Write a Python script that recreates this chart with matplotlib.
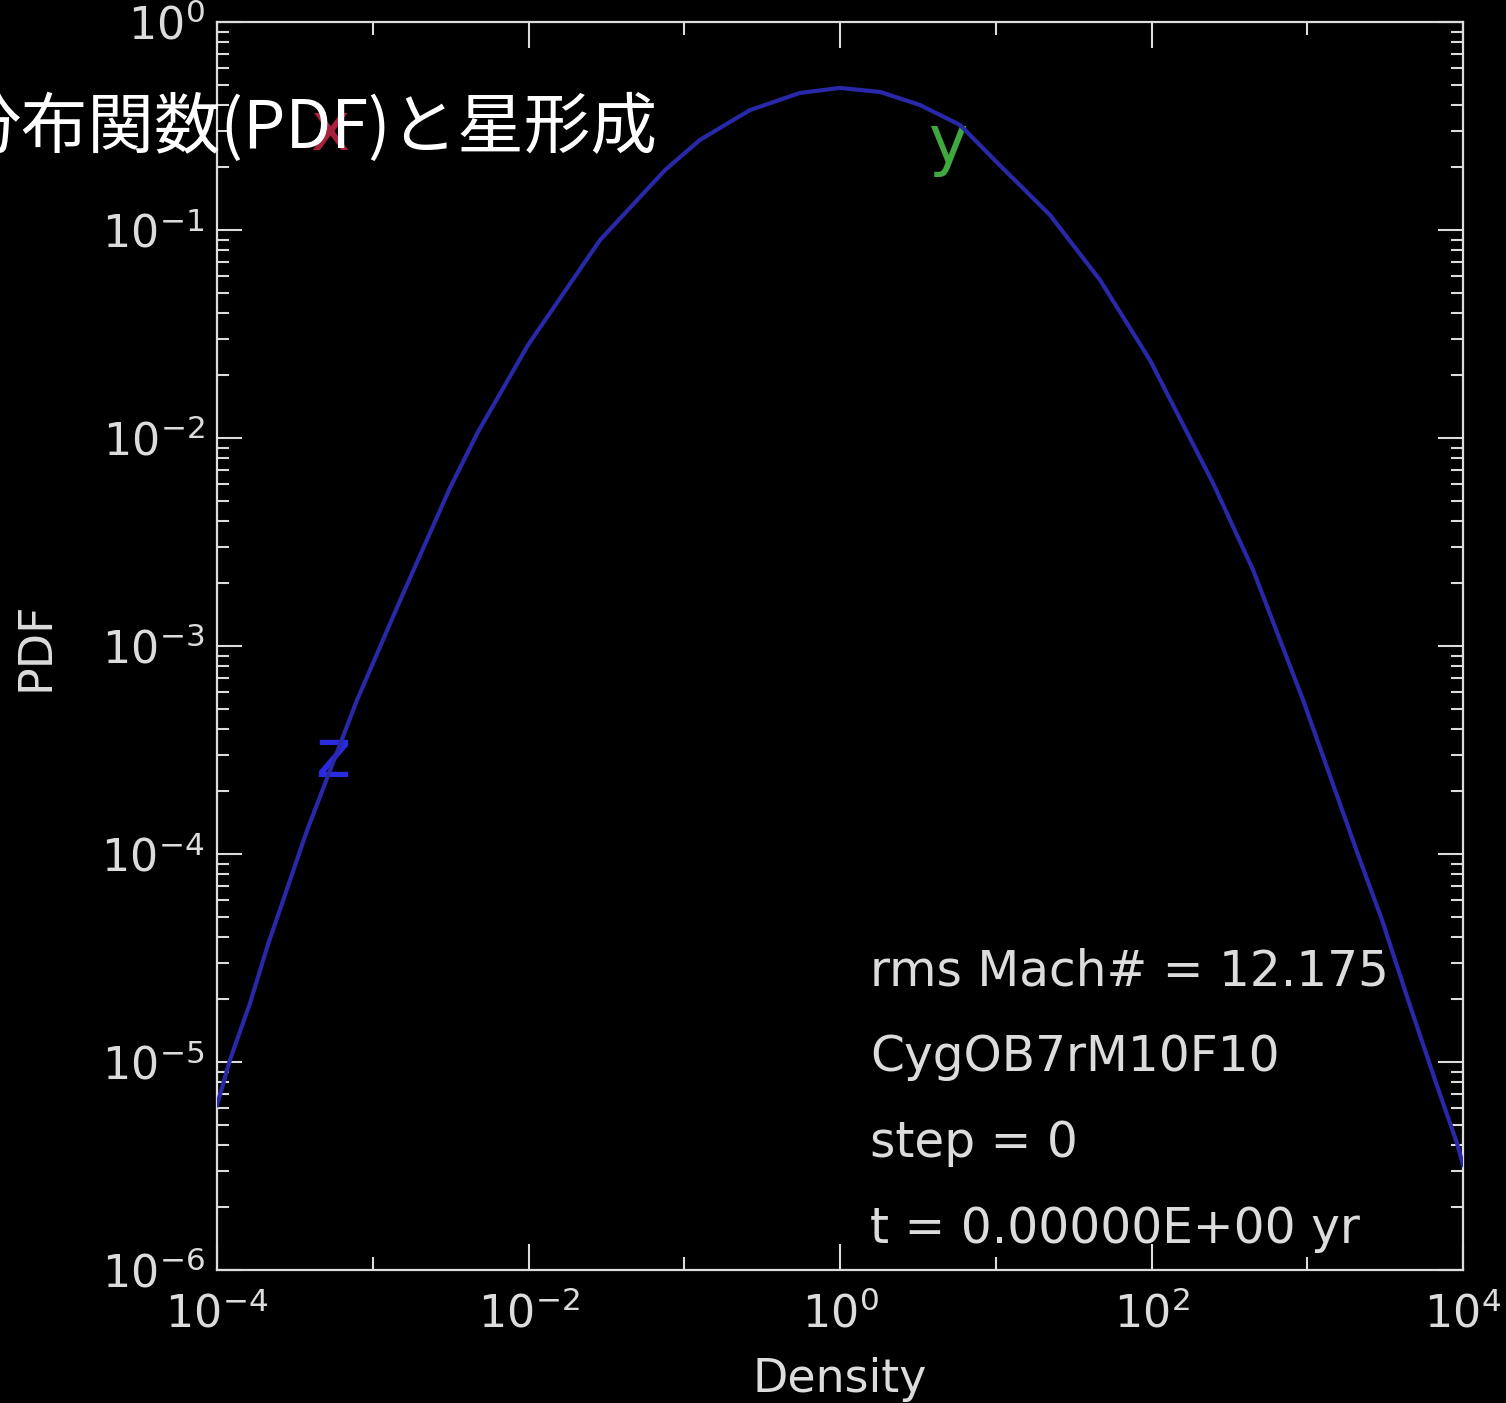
import matplotlib
matplotlib.use('Agg')
import matplotlib.pyplot as plt
from matplotlib.ticker import FixedLocator, LogLocator, NullFormatter, LogFormatterSciNotation

# density PDF
density = [1.0e-4, 1.21e-4, 1.63e-4, 2.12e-4, 3.79e-4, 7.93e-4, 1.50e-3, 3.13e-3, 4.74e-3,
           9.93e-3, 2.88e-2, 7.52e-2, 0.126, 0.264, 0.553, 1.0, 1.81, 3.26, 5.89, 10.6,
           22.3, 46.7, 97.7, 248, 449, 940, 2120, 3020, 4440, 6610, 9140, 1.0e4]
pdf = [6.2e-6, 1.02e-5, 1.92e-5, 3.65e-5, 1.30e-4, 5.5e-4, 1.66e-3, 5.75e-3, 1.07e-2,
       2.80e-2, 8.95e-2, 0.194, 0.271, 0.377, 0.456, 0.482, 0.461, 0.399, 0.320, 0.205,
       0.118, 5.75e-2, 2.37e-2, 6.08e-3, 2.32e-3, 5.5e-4, 9.9e-5, 4.82e-5, 1.99e-5,
       8.2e-6, 4.08e-6, 3.2e-6]

# direction labels (x, y, z) and where they sit
dir_names = ['x', 'y', 'z']
dir_colors = ['#a8203c', '#3fa83f', '#2a2ae0']
dir_pos = [(5.3e-4, 0.30), (4.9, 0.26), (5.5e-4, 2.9e-4)]

info_lines = ['rms Mach# = 12.175', 'CygOB7rM10F10', 'step = 0', 't = 0.00000E+00 yr']
title = '分布関数(PDF)と星形成'

fg = '#dcdcdc'

fig = plt.figure(figsize=(15.06, 14.03), dpi=100, facecolor='black')
ax = fig.add_axes([217 / 1506, 1 - 1270 / 1403, 1246 / 1506, 1248 / 1403])
ax.set_facecolor('black')

ax.plot(density, pdf, color='#2828a8', lw=3, zorder=3)

for name, col, (px, py) in zip(dir_names, dir_colors, dir_pos):
    ax.text(px, py, name, color=col, fontsize=48, ha='center', va='center', zorder=2)

ax.set_xscale('log')
ax.set_yscale('log')
ax.set_xlim(1e-4, 1e4)
ax.set_ylim(1e-6, 1e0)

ax.xaxis.set_major_locator(FixedLocator([1e-4, 1e-2, 1e0, 1e2, 1e4]))
ax.xaxis.set_minor_locator(FixedLocator([1e-3, 1e-1, 1e1, 1e3]))
ax.xaxis.set_major_formatter(LogFormatterSciNotation())
ax.xaxis.set_minor_formatter(NullFormatter())
ax.yaxis.set_major_locator(LogLocator(base=10, numticks=20))
ax.yaxis.set_minor_locator(LogLocator(base=10, subs=range(2, 10), numticks=20))
ax.yaxis.set_minor_formatter(NullFormatter())

for s in ax.spines.values():
    s.set_color(fg)
    s.set_linewidth(1.6)

ax.tick_params(which='both', direction='in', top=True, right=True, colors=fg, width=1.5)
ax.tick_params(axis='x', which='major', length=19, pad=16, labelsize=32)
ax.tick_params(axis='x', which='minor', length=9.5)
ax.tick_params(axis='y', which='major', length=18, pad=9, labelsize=32)
ax.tick_params(axis='y', which='minor', length=8.5)

ax.set_xlabel('Density', color=fg, fontsize=33)
ax.xaxis.set_label_coords(0.5, -0.088)
ax.xaxis.label.set_va('center')
ax.set_ylabel('PDF', color=fg, fontsize=33)
ax.yaxis.set_label_coords(-0.145, 0.5)
ax.yaxis.label.set_va('center')

for i, line in enumerate(info_lines):
    fig.text(870 / 1506, 1 - (985 + 86 * i) / 1403, line, color=fg, fontsize=35,
             ha='left', va='baseline')

fig.text(657 / 1506, 1 - 128 / 1403, title, color='white', fontsize=48,
         ha='right', va='center', family=['Noto Sans CJK JP', 'DejaVu Sans'], zorder=10)

fig.savefig('out.png', dpi=100, facecolor='black')
